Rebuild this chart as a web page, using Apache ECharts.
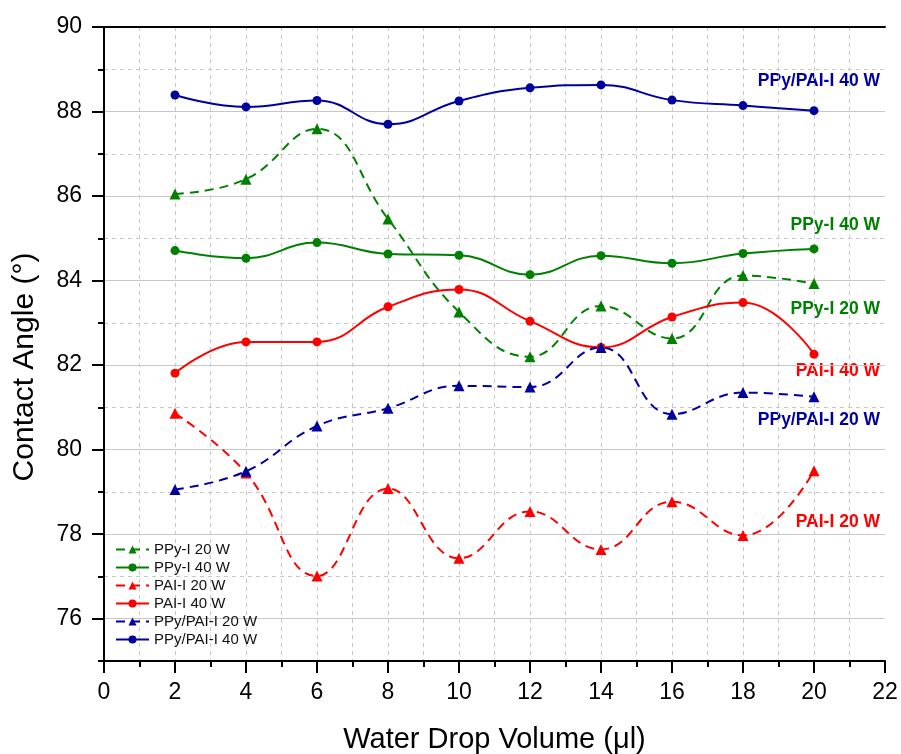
<!DOCTYPE html>
<html>
<head>
<meta charset="utf-8">
<title>Contact Angle</title>
<script src="https://cdn.jsdelivr.net/npm/echarts@6/dist/echarts.min.js"></script>
<style>
  html, body { margin: 0; padding: 0; background: #fff; }
  #chart1 { width: 901px; height: 754px; }
</style>
</head>
<body>
<div id="chart1"></div>
<script>
// data
const volumes = [2, 4, 6, 8, 10, 12, 14, 16, 18, 20];
const ppyI20 = [86.05, 86.40, 87.59, 85.46, 83.26, 82.20, 83.40, 82.63, 84.12, 83.93];
const ppyI40 = [84.71, 84.53, 84.90, 84.63, 84.60, 84.14, 84.59, 84.41, 84.64, 84.75];
const paiI20 = [80.86, 79.45, 77.01, 79.08, 77.43, 78.54, 77.64, 78.77, 77.97, 79.50];
const paiI40 = [81.81, 82.55, 82.55, 83.38, 83.79, 83.04, 82.42, 83.14, 83.48, 82.26];
const ppyPai20 = [79.06, 79.49, 80.56, 80.98, 81.51, 81.48, 82.42, 80.84, 81.35, 81.25];
const ppyPai40 = [88.39, 88.11, 88.26, 87.70, 88.25, 88.56, 88.63, 88.27, 88.14, 88.02];

const seriesNames = ['PPy-I 20 W', 'PPy-I 40 W', 'PAI-I 20 W', 'PAI-I 40 W', 'PPy/PAI-I 20 W', 'PPy/PAI-I 40 W'];
const seriesData = [ppyI20, ppyI40, paiI20, paiI40, ppyPai20, ppyPai40];
const seriesColors = ['#008000', '#008000', '#ff0000', '#ff0000', '#0000a0', '#0000a0'];

// end labels on the right side (y = pixel centre)
const endLabels = [
    { text: 'PPy/PAI-I 40 W', color: '#0000a0', y: 82 },
    { text: 'PPy-I 40 W', color: '#008000', y: 226 },
    { text: 'PPy-I 20 W', color: '#008000', y: 310 },
    { text: 'PAI-I 40 W', color: '#ff0000', y: 372 },
    { text: 'PPy/PAI-I 20 W', color: '#0000a0', y: 421 },
    { text: 'PAI-I 20 W', color: '#ff0000', y: 523 }
];

const FONT = "'Liberation Sans', Arial, sans-serif";
const GRID_BOTTOM = 93;
const UNIT = (754 - 27 - GRID_BOTTOM) / 15;
const LABEL_SIZE = 17.5;

const getOptionChart1 = () => {
    const series = seriesNames.map((name, i) => {
        const dashed = name.indexOf('20 W') >= 0;
        return {
            name: name,
            type: 'line',
            xAxisIndex: 0,
            yAxisIndex: 0,
            smooth: 0.45,
            symbol: dashed ? 'triangle' : 'circle',
            symbolSize: dashed ? 11 : 9,
            color: seriesColors[i],
            lineStyle: {
                width: 2,
                type: dashed ? [9, 6] : 'solid'
            },
            data: volumes.map((v, k) => [v, seriesData[i][k]])
        };
    });

    return {
        animation: false,
        textStyle: { fontFamily: FONT },
        grid: [
            { left: 104, right: 16, top: 27, bottom: GRID_BOTTOM, outerBoundsMode: 'none' },
            // second grid only carries the labelled even ticks (76..90)
            { left: 104, right: 16, top: 27, bottom: GRID_BOTTOM + UNIT, outerBoundsMode: 'none' }
        ],
        legend: {
            orient: 'vertical',
            left: 115,
            top: 542,
            padding: 0,
            itemWidth: 33,
            itemHeight: 10,
            itemGap: 3,
            textStyle: { fontSize: 15, color: '#111', fontFamily: FONT },
            data: seriesNames
        },
        xAxis: [
            {
                type: 'value',
                gridIndex: 0,
                min: 0,
                max: 22,
                interval: 2,
                name: 'Water Drop Volume (\u03bcl)',
                nameLocation: 'middle',
                nameGap: 64,
                nameTextStyle: { fontSize: 29, color: '#000', fontFamily: FONT },
                axisLine: { lineStyle: { color: '#000', width: 2 } },
                axisTick: { length: 12, lineStyle: { color: '#000', width: 2 } },
                minorTick: { show: true, splitNumber: 2, length: 6, lineStyle: { color: '#000', width: 2 } },
                axisLabel: { fontSize: 23, color: '#000', margin: 20, fontFamily: FONT },
                splitLine: { show: true, showMinLine: false, showMaxLine: false, lineStyle: { color: '#c8c8c8', type: [4, 4] } },
                minorSplitLine: { show: true, lineStyle: { color: '#c8c8c8', type: [4, 4] } }
            },
            { type: 'value', gridIndex: 1, min: 0, max: 22, show: false },
            // top frame line
            {
                type: 'value', gridIndex: 0, position: 'top', min: 0, max: 22,
                axisLine: { show: true, lineStyle: { color: '#000', width: 2 } },
                axisTick: { show: false }, axisLabel: { show: false }, splitLine: { show: false }
            }
        ],
        yAxis: [
            {
                type: 'value',
                gridIndex: 0,
                min: 75,
                max: 90,
                interval: 1,
                name: 'Contact Angle (\u00b0)',
                nameLocation: 'middle',
                nameGap: 64,
                nameTextStyle: { fontSize: 30, color: '#000', fontFamily: FONT, padding: [0, 46, 0, 0] },
                axisLine: { show: true, lineStyle: { color: '#000', width: 2 } },
                axisTick: { length: 6, lineStyle: { color: '#000', width: 2 } },
                axisLabel: { show: false },
                splitLine: { show: true, showMinLine: false, showMaxLine: false, lineStyle: { color: '#c8c8c8', type: [4, 4] } }
            },
            {
                type: 'value',
                gridIndex: 1,
                min: 76,
                max: 90,
                interval: 2,
                axisLine: { show: false },
                axisTick: { show: true, length: 12, lineStyle: { color: '#000', width: 2 } },
                axisLabel: { fontSize: 23, color: '#000', margin: 22, fontFamily: FONT },
                splitLine: { show: true, showMaxLine: false, lineStyle: { color: '#c8c8c8', type: 'solid' } }
            },
            // right frame line
            {
                type: 'value', gridIndex: 0, position: 'right', min: 75, max: 90,
                axisLine: { show: true, lineStyle: { color: '#000', width: 2 } },
                axisTick: { show: false }, axisLabel: { show: false }, splitLine: { show: false }
            }
        ],
        graphic: endLabels.map(l => ({
            type: 'text',
            right: 21,
            top: l.y - LABEL_SIZE / 2 - 1,
            style: {
                text: l.text,
                fill: l.color,
                font: 'bold ' + LABEL_SIZE + 'px ' + FONT
            }
        })),
        series: series
    };
};

const initCharts = () => {
    const chart1 = echarts.init(document.getElementById('chart1'));
    chart1.setOption(getOptionChart1());
};

window.addEventListener('load', () => {
    initCharts();
});
</script>
</body>
</html>
